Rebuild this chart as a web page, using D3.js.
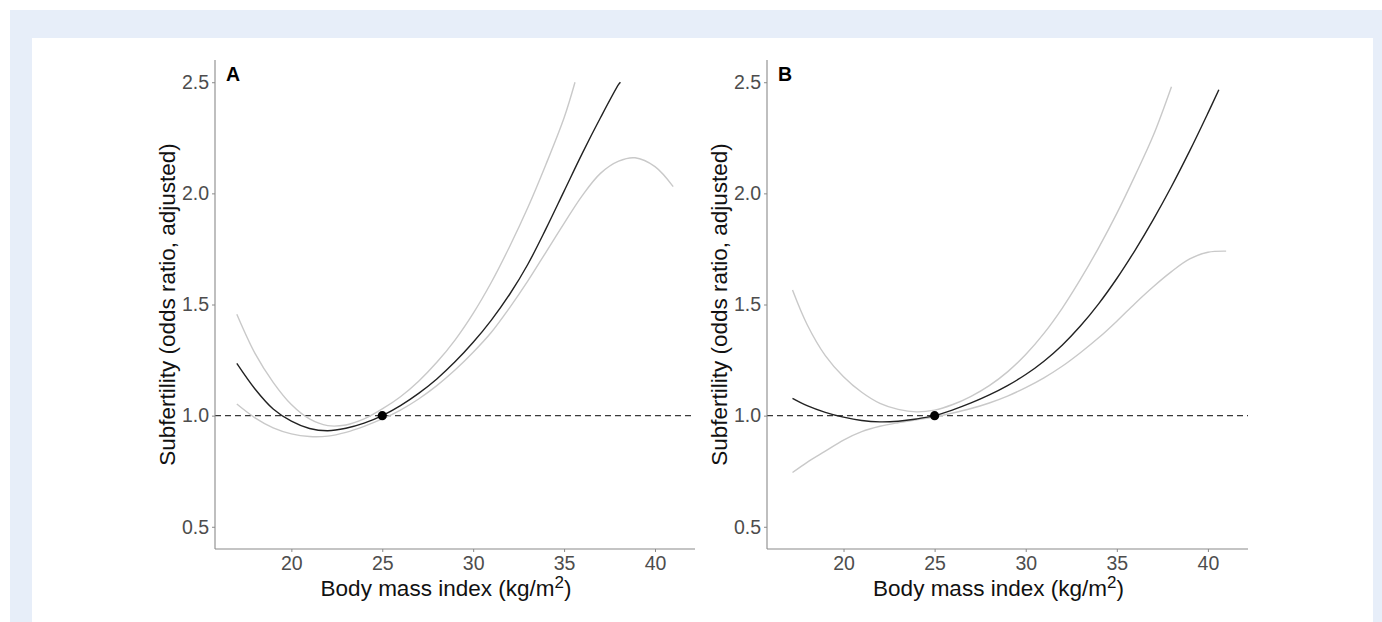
<!DOCTYPE html>
<html>
<head>
<meta charset="utf-8">
<script src="https://cdn.jsdelivr.net/npm/d3@7"></script>
<style>
  html, body { margin: 0; padding: 0; background: #ffffff; }
  svg { display: block; }
  text { font-family: "Liberation Sans", Arial, Helvetica, sans-serif; }
</style>
</head>
<body>
<svg id="chart" width="1382" height="622"></svg>
<script>
// ---------------- data ----------------
const xTicks = [20, 25, 30, 35, 40];
const yTicks = [0.5, 1.0, 1.5, 2.0, 2.5];
const yTickLabels = ["0.5", "1.0", "1.5", "2.0", "2.5"];
const panelLabels = ["A", "B"];
const xTitle = "Body mass index (kg/m";
const yTitle = "Subfertility (odds ratio, adjusted)";
const refPoint = [25, 1.0];

// Panel A
const aBmi   = [17, 18, 19, 20, 21, 22, 23, 24, 25, 26, 27, 28, 29, 30, 31, 32, 33, 34, 35, 36, 37, 38, 38.1];
const aOR    = [1.235, 1.12, 1.03, 0.975, 0.942, 0.932, 0.943, 0.966, 1.0, 1.045, 1.10, 1.165, 1.242, 1.33, 1.43, 1.545, 1.68, 1.84, 2.01, 2.18, 2.34, 2.49, 2.5];
const aUpperBmi = [17, 18, 19, 20, 21, 22, 23, 24, 25, 26, 27, 28, 29, 30, 31, 32, 33, 34, 35, 35.6];
const aUpper    = [1.456, 1.28, 1.15, 1.05, 0.985, 0.955, 0.958, 0.985, 1.03, 1.085, 1.155, 1.24, 1.34, 1.46, 1.6, 1.76, 1.935, 2.13, 2.34, 2.5];
const aLowerBmi = [17, 18, 19, 20, 21, 22, 23, 24, 25, 26, 27, 28, 29, 30, 31, 32, 33, 34, 35, 36, 37, 38, 38.9, 40, 41];
const aLower    = [1.052, 0.99, 0.945, 0.918, 0.906, 0.908, 0.925, 0.952, 0.985, 1.025, 1.075, 1.135, 1.205, 1.285, 1.375, 1.485, 1.605, 1.735, 1.865, 1.99, 2.09, 2.145, 2.16, 2.12, 2.03];

// Panel B
const bBmi   = [17.2, 18, 19, 20, 21, 22, 23, 24, 25, 26, 27, 28, 29, 30, 31, 32, 33, 34, 35, 36, 37, 38, 39, 40, 40.6];
const bOR    = [1.078, 1.045, 1.015, 0.993, 0.978, 0.972, 0.975, 0.985, 1.0, 1.026, 1.057, 1.093, 1.135, 1.185, 1.245, 1.317, 1.403, 1.503, 1.617, 1.744, 1.882, 2.031, 2.191, 2.361, 2.466];
const bUpperBmi = [17.2, 18, 19, 20, 21, 22, 23, 24, 25, 26, 27, 28, 29, 30, 31, 32, 33, 34, 35, 36, 37, 38];
const bUpper    = [1.565, 1.41, 1.27, 1.175, 1.105, 1.055, 1.028, 1.017, 1.025, 1.05, 1.087, 1.135, 1.197, 1.275, 1.37, 1.483, 1.613, 1.755, 1.91, 2.08, 2.26, 2.48];
const bLowerBmi = [17.2, 18, 19, 20, 21, 22, 23, 24, 25, 26, 27, 28, 29, 30, 31, 32, 33, 34, 35, 36, 37, 38, 39, 40, 41];
const bLower    = [0.744, 0.79, 0.84, 0.89, 0.928, 0.952, 0.968, 0.981, 0.995, 1.012, 1.032, 1.057, 1.088, 1.126, 1.17, 1.222, 1.283, 1.35, 1.425, 1.505, 1.58, 1.648, 1.705, 1.735, 1.74];

const panels = [
  { label: panelLabels[0], left: 215, right: 695,
    est: [aBmi, aOR], upper: [aUpperBmi, aUpper], lower: [aLowerBmi, aLower] },
  { label: panelLabels[1], left: 767, right: 1248,
    est: [bBmi, bOR], upper: [bUpperBmi, bUpper], lower: [bLowerBmi, bLower] }
];

// ---------------- drawing ----------------
const svg = d3.select("#chart");

// page frame
svg.append("rect").attr("x", 10).attr("y", 10).attr("width", 1372).attr("height", 612).attr("fill", "#e7eef9");
svg.append("rect").attr("x", 32).attr("y", 38).attr("width", 1341).attr("height", 584).attr("fill", "#ffffff");

const plotTop = 60, plotBottom = 549;
const y = d3.scaleLinear().domain([0.4, 2.6]).range([plotBottom, plotTop]);

panels.forEach(p => {
  const x = d3.scaleLinear().domain([15.8, 42.2]).range([p.left, p.right]);
  const g = svg.append("g");

  const line = d3.line().x(d => x(d[0])).y(d => y(d[1])).curve(d3.curveCatmullRom.alpha(0.5));
  const zip = (xs, ys) => xs.map((v, i) => [v, ys[i]]);

  // reference dashed line
  g.append("line")
    .attr("x1", x(15.8)).attr("x2", x(42.2))
    .attr("y1", y(1)).attr("y2", y(1))
    .attr("stroke", "#3a3a3a").attr("stroke-width", 1.2)
    .attr("stroke-dasharray", "6,4");

  // CI curves
  [p.upper, p.lower].forEach(c => {
    g.append("path").datum(zip(c[0], c[1]))
      .attr("d", line).attr("fill", "none")
      .attr("stroke", "#c9c9c9").attr("stroke-width", 1.4);
  });
  // estimate
  g.append("path").datum(zip(p.est[0], p.est[1]))
    .attr("d", line).attr("fill", "none")
    .attr("stroke", "#222222").attr("stroke-width", 1.4);

  // reference point
  g.append("circle").attr("cx", x(refPoint[0])).attr("cy", y(refPoint[1]))
    .attr("r", 4.6).attr("fill", "#000");

  // axes
  const xAxis = d3.axisBottom(x).tickValues(xTicks).tickSize(3).tickPadding(4).tickFormat(d3.format("d"));
  const yAxis = d3.axisLeft(y).tickValues(yTicks).tickSize(3).tickPadding(3).tickFormat((d, i) => yTickLabels[i]);

  const gx = g.append("g").attr("transform", `translate(0,${plotBottom})`).call(xAxis);
  const gy = g.append("g").attr("transform", `translate(${p.left},0)`).call(yAxis);
  [gx, gy].forEach(ax => {
    ax.select(".domain").attr("stroke", "#8a8a8a").attr("stroke-width", 1.1);
    ax.selectAll(".tick line").attr("stroke", "#8a8a8a").attr("stroke-width", 1);
    ax.selectAll(".tick text").attr("fill", "#4d4d4d").style("font-size", "19.5px")
      .style("font-family", '"Liberation Sans", Arial, sans-serif');
  });
  gx.select(".domain").attr("d", `M${p.left},0H${p.right}`);
  gy.select(".domain").attr("d", `M0,${plotBottom}V${plotTop}`);

  // panel letter
  g.append("text").attr("x", p.left + 11).attr("y", 81)
    .attr("font-weight", "bold").attr("font-size", 19.5).attr("fill", "#000")
    .text(p.label);

  // x title
  const xt = g.append("text").attr("x", (p.left + p.right) / 2 - 9).attr("y", 596)
    .attr("text-anchor", "middle").attr("font-size", 22.5).attr("fill", "#111");
  xt.append("tspan").text(xTitle);
  xt.append("tspan").attr("dy", -8).attr("font-size", 17).text("2");
  xt.append("tspan").attr("dy", 8).text(")");

  // y title
  g.append("text")
    .attr("transform", `translate(${p.left - 40},${(plotTop + plotBottom) / 2}) rotate(-90)`)
    .attr("text-anchor", "middle").attr("font-size", 22.5).attr("fill", "#111")
    .text(yTitle);
});
</script>
</body>
</html>
